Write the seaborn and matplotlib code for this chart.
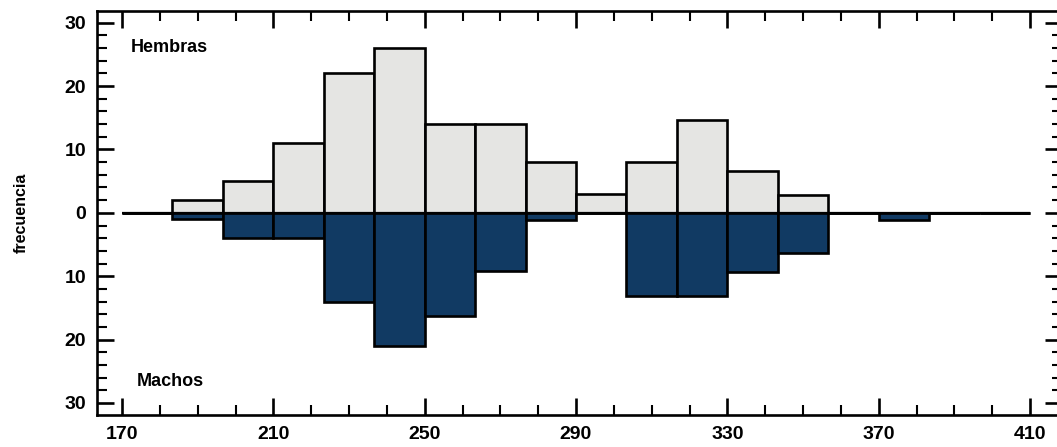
import numpy as np
import pandas as pd
import seaborn as sns
import matplotlib
matplotlib.use("Agg")
import matplotlib.pyplot as plt
from matplotlib.ticker import MultipleLocator, FuncFormatter

# ---- data ----
bin_range = (170, 410)
n_bins = 18                                     # bins of width 13.33
hembras = [0, 2, 5, 11, 22, 26, 14, 14, 8, 3, 8, 14.7, 6.6, 2.8, 0, 0, 0, 0]
machos = [0, 1, 4, 4, 14, 21, 16.3, 9.2, 1.2, 0, 13.2, 13.2, 9.3, 6.4, 0, 1.2, 0, 0]
x_ticks = [170, 210, 250, 290, 330, 370, 410]
y_ticks = [-30, -20, -10, 0, 10, 20, 30]
label_top = "Hembras"
label_bottom = "Machos"
y_label = "frecuencia"

bin_edges = np.linspace(bin_range[0], bin_range[1], n_bins + 1)
centers = (bin_edges[:-1] + bin_edges[1:]) / 2
df = pd.DataFrame({"centro": centers,
                   "hembras": np.array(hembras, dtype=float),
                   "machos": -np.array(machos, dtype=float)})

sns.set_style("ticks")
plt.rcParams["font.family"] = ["Liberation Sans", "DejaVu Sans"]
plt.rcParams["text.color"] = "black"
plt.rcParams["axes.labelcolor"] = "black"
plt.rcParams["xtick.color"] = "black"
plt.rcParams["ytick.color"] = "black"

W, H = 1057, 447
left_px, right_px, top_px, bottom_px = 97, 1062, 11, 415
fig = plt.figure(figsize=(W / 100, H / 100), dpi=100)
ax = fig.add_axes([left_px / W, 1 - bottom_px / H,
                   (right_px - left_px) / W, (bottom_px - top_px) / H])

edge_kw = dict(edgecolor="black", linewidth=1.9)
sns.histplot(data=df, x="centro", weights="hembras", bins=n_bins, binrange=bin_range,
             color="#e5e5e3", alpha=1, ax=ax, **edge_kw)
sns.histplot(data=df, x="centro", weights="machos", bins=n_bins, binrange=bin_range,
             color="#113a63", alpha=1, ax=ax, **edge_kw)

ax.hlines(0, x_ticks[0], x_ticks[-1], color="black", linewidth=1.6, zorder=5)

px_per_unit = (1030 - 122) / (x_ticks[-1] - x_ticks[0])
ax.set_xlim(x_ticks[0] - (122 - left_px) / px_per_unit,
            x_ticks[-1] + (right_px - 1030) / px_per_unit)
ax.set_ylim(-31.9, 31.85)
ax.set_xticks(x_ticks)
ax.set_yticks(y_ticks)
ax.xaxis.set_minor_locator(MultipleLocator(10))
ax.yaxis.set_minor_locator(MultipleLocator(2))
ax.yaxis.set_major_formatter(FuncFormatter(lambda v, p: f"{abs(int(round(v)))}"))

ax.tick_params(which="both", direction="in", top=True, right=True, color="black")
ax.tick_params(which="major", length=12, width=1.9, labelsize=14, pad=8)
ax.tick_params(which="minor", length=7, width=1.5)
for lab in ax.get_xticklabels() + ax.get_yticklabels():
    lab.set_fontweight("bold")

for sp in ax.spines.values():
    sp.set_linewidth(1.9)
    sp.set_color("black")

ax.set_xlabel("")
ax.set_ylabel(y_label, fontsize=11.5, fontweight="bold")
ax.yaxis.set_label_coords((29 - left_px) / (right_px - left_px), 0.5)

ax.text(172.4, 26.1, label_top, fontsize=13, fontweight="bold", va="center", ha="left")
ax.text(174.0, -26.6, label_bottom, fontsize=13, fontweight="bold", va="center", ha="left")

fig.savefig("out.png", dpi=100)
